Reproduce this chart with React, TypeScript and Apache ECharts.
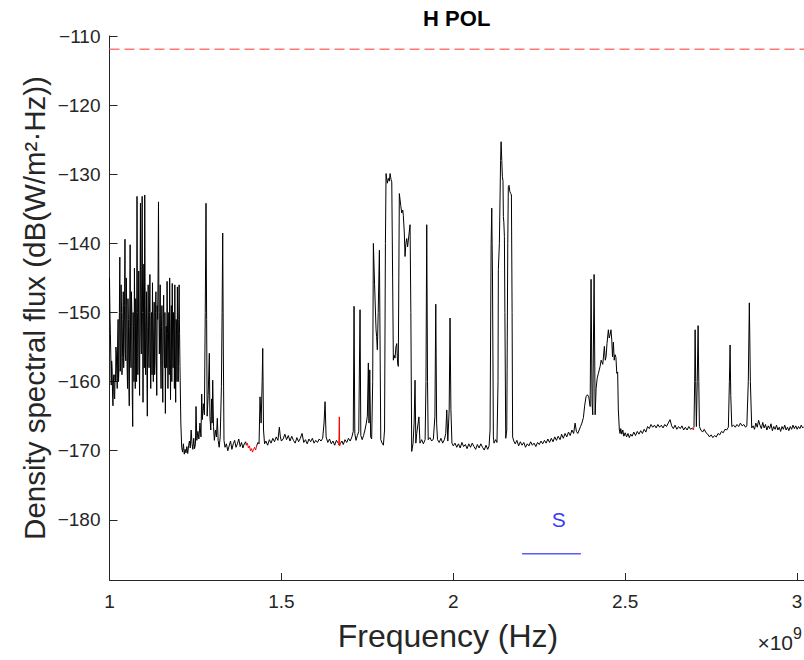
import React, { useEffect, useRef } from "react";
import * as echarts from "echarts";

const TITLE = "H POL";
const X_NAME = "Frequency (Hz)";
const Y_NAME = "Density spectral flux (dB(W/m²·Hz))";
const X_TICKS = [1, 1.5, 2, 2.5, 3];
const Y_TICKS = [-180, -170, -160, -150, -140, -130, -120, -110];
const X_RANGE = [1, 3.02];
const Y_RANGE = [-188.7, -110];
const THRESHOLD_DB = -111.9;
const S_BAND = [[2.2, -184.9], [2.371, -184.9]];
const S_LABEL_POS = [2.307, -180];

// frequency (GHz, axis shows x10^9) , flux density (dB)
const spectrum = [
  [1.0, -145.0], [1.00125, -150.0], [1.0025, -153.0], [1.00375, -156.0], [1.005, -160.5], [1.00625, -157.0],
  [1.0075, -158.0], [1.00875, -161.5], [1.01, -163.5], [1.01125, -160.0], [1.0125, -159.0], [1.01375, -162.0],
  [1.015, -162.5], [1.01625, -159.0], [1.0175, -160.0], [1.01875, -155.0], [1.02, -156.0], [1.02125, -159.0],
  [1.0225, -161.0], [1.02375, -154.0], [1.025, -151.0], [1.02625, -160.0], [1.0275, -158.0], [1.02875, -150.0],
  [1.03, -142.0], [1.03125, -158.5], [1.0325, -157.0], [1.03375, -146.0], [1.035, -150.0], [1.03625, -159.0],
  [1.0375, -156.5], [1.03875, -151.0], [1.04, -147.0], [1.04125, -158.0], [1.0425, -155.0], [1.04375, -149.0],
  [1.045, -139.4], [1.04625, -156.0], [1.0475, -157.0], [1.04875, -145.0], [1.05, -149.0], [1.05125, -158.0],
  [1.0525, -161.0], [1.05375, -148.0], [1.055, -151.0], [1.05625, -160.0], [1.0575, -163.5], [1.05875, -152.0],
  [1.06, -140.2], [1.06125, -155.0], [1.0625, -158.0], [1.06375, -147.0], [1.065, -150.0], [1.06625, -162.0],
  [1.0675, -166.5], [1.06875, -150.0], [1.07, -154.0], [1.07125, -160.0], [1.0725, -143.6], [1.07375, -152.0],
  [1.075, -161.0], [1.07625, -148.0], [1.0775, -151.0], [1.07875, -160.0], [1.08, -133.2], [1.08125, -150.0],
  [1.0825, -159.0], [1.08375, -152.0], [1.085, -144.0], [1.08625, -156.0], [1.0875, -162.0], [1.08875, -148.0],
  [1.09, -134.2], [1.09125, -153.0], [1.0925, -156.0], [1.09375, -145.0], [1.095, -133.2], [1.09625, -150.0],
  [1.0975, -163.0], [1.09875, -150.0], [1.1, -143.0], [1.10125, -158.0], [1.1025, -133.0], [1.10375, -149.0],
  [1.105, -159.0], [1.10625, -153.0], [1.1075, -147.0], [1.10875, -158.0], [1.11, -165.0], [1.11125, -152.0],
  [1.1125, -146.0], [1.11375, -155.0], [1.115, -158.0], [1.11625, -150.0], [1.1175, -144.5], [1.11875, -156.0],
  [1.12, -161.0], [1.12125, -151.0], [1.1225, -150.0], [1.12375, -159.0], [1.125, -145.7], [1.12625, -154.0],
  [1.1275, -160.0], [1.12875, -152.0], [1.13, -148.5], [1.13125, -159.0], [1.1325, -157.0], [1.13375, -150.0],
  [1.135, -147.0], [1.13625, -157.0], [1.1375, -162.0], [1.13875, -149.0], [1.14, -151.0], [1.14125, -145.0],
  [1.1425, -134.0], [1.14375, -150.0], [1.145, -156.0], [1.14625, -151.0], [1.1475, -146.0], [1.14875, -157.0],
  [1.15, -161.0], [1.15125, -152.0], [1.1525, -149.0], [1.15375, -158.0], [1.155, -163.0], [1.15625, -151.0],
  [1.1575, -147.5], [1.15875, -155.0], [1.16, -158.0], [1.16125, -150.0], [1.1625, -164.6], [1.16375, -155.0],
  [1.165, -152.0], [1.16625, -158.0], [1.1675, -145.5], [1.16875, -153.0], [1.17, -161.0], [1.17125, -155.0],
  [1.1725, -150.0], [1.17375, -159.0], [1.175, -145.0], [1.17625, -154.0], [1.1775, -162.6], [1.17875, -152.0],
  [1.18, -149.0], [1.18125, -160.0], [1.1825, -145.8], [1.18375, -155.0], [1.185, -158.0], [1.18625, -150.0],
  [1.1875, -151.0], [1.18875, -161.0], [1.19, -146.0], [1.19125, -156.0], [1.1925, -163.0], [1.19375, -151.0],
  [1.195, -152.0], [1.19625, -160.0], [1.1975, -146.3], [1.19875, -155.0], [1.2, -160.0], [1.20125, -151.0],
  [1.2025, -146.0], [1.20375, -153.0], [1.205, -157.8], [1.2075, -166.0],
  [1.21, -169.5], [1.2125, -170.2], [1.215, -169.0], [1.2175, -170.5], [1.22, -169.8], [1.2225, -170.3],
  [1.225, -169.4], [1.2275, -170.4], [1.23, -169.3], [1.2325, -168.6], [1.235, -169.6], [1.2375, -167.0],
  [1.24, -169.0], [1.2425, -169.8], [1.245, -168.2], [1.2475, -169.7], [1.25, -169.0], [1.2516, -163.6],
  [1.254, -168.5], [1.257, -167.2], [1.26, -168.3], [1.263, -166.0], [1.266, -168.0], [1.2682, -161.8],
  [1.27, -165.5], [1.273, -163.2], [1.276, -164.8], [1.2785, -150.0], [1.2807, -134.2], [1.2825, -151.0],
  [1.284, -165.0], [1.287, -162.0], [1.2904, -155.9], [1.292, -165.0], [1.2945, -167.0], [1.297, -162.5],
  [1.2985, -166.0], [1.3002, -159.8], [1.3025, -166.5], [1.305, -168.5], [1.308, -167.0], [1.311, -168.0],
  [1.3136, -165.3], [1.316, -168.5], [1.319, -169.5], [1.322, -168.0], [1.3255, -160.7], [1.3275, -150.0],
  [1.3293, -138.5], [1.331, -155.0], [1.333, -168.5], [1.336, -169.5], [1.34, -169.0], [1.344, -170.0],
  [1.348, -169.3], [1.352, -168.6], [1.356, -169.8], [1.36, -169.0], [1.364, -168.5], [1.368, -169.5],
  [1.372, -169.0], [1.376, -168.3], [1.38, -169.4], [1.384, -168.8], [1.388, -169.6], [1.392, -169.0],
  [1.396, -168.7], [1.398, -169.2], [1.413, null], [1.428, -169.3], [1.432, -168.8], [1.435, -169.0],
  [1.4378, -162.2], [1.441, -166.0], [1.444, -160.0], [1.4457, -155.2], [1.448, -167.0], [1.451, -169.0],
  [1.455, -168.6], [1.46, -169.2], [1.465, -168.4], [1.47, -168.9], [1.475, -168.2], [1.48, -168.7],
  [1.485, -168.0], [1.49, -168.5], [1.494, -166.6], [1.497, -168.0], [1.5, -168.6], [1.505, -168.3],
  [1.51, -167.6], [1.515, -168.4], [1.52, -167.8], [1.525, -168.6], [1.53, -167.9], [1.535, -168.5],
  [1.54, -168.9], [1.545, -168.1], [1.55, -168.7], [1.555, -168.2], [1.56, -167.5], [1.565, -168.8],
  [1.57, -168.4], [1.575, -169.0], [1.58, -168.3], [1.585, -168.7], [1.59, -168.2], [1.595, -168.9],
  [1.6, -168.5], [1.605, -168.8], [1.61, -168.3], [1.615, -168.6], [1.62, -168.2], [1.624, -166.0],
  [1.627, -162.9], [1.63, -168.0], [1.635, -168.8], [1.64, -168.3], [1.645, -169.0], [1.65, -168.6],
  [1.655, -169.2], [1.66, -168.5], [1.6655, -168.9], [1.668, null], [1.671, -169.0], [1.676, -168.6],
  [1.68, -169.1], [1.685, -168.4], [1.69, -168.8], [1.695, -168.2], [1.7, -168.6], [1.705, -168.0],
  [1.709, -167.2], [1.7113, -149.1], [1.7135, -167.5], [1.717, -168.5], [1.721, -167.8], [1.725, -167.2],
  [1.7287, -149.6], [1.731, -167.8], [1.735, -168.4], [1.739, -167.8], [1.743, -167.0], [1.747, -166.0],
  [1.75, -165.0], [1.7529, -157.3], [1.7548, -166.0], [1.757, -158.3], [1.7595, -168.0], [1.7625, -168.3],
  [1.7655, -160.0], [1.7675, -140.0], [1.771, -146.0], [1.7753, -152.5], [1.777, -153.5], [1.779, -155.4],
  [1.7815, -150.0], [1.785, -141.0], [1.787, -155.0], [1.789, -168.4], [1.793, -168.9], [1.7966, -169.2],
  [1.8, -167.0], [1.8025, -140.0], [1.8044, -129.9], [1.808, -131.3], [1.811, -130.6], [1.814, -131.0],
  [1.816, -129.9], [1.819, -130.8], [1.821, -131.1], [1.8235, -145.0], [1.8256, -156.9], [1.828, -156.2],
  [1.8305, -156.6], [1.833, -155.0], [1.8355, -154.5], [1.838, -157.3], [1.84, -157.8], [1.8415, -145.0],
  [1.843, -132.8], [1.847, -134.5], [1.85, -135.6], [1.853, -135.2], [1.8547, -136.0], [1.8575, -138.5],
  [1.8596, -141.9], [1.862, -140.0], [1.8645, -139.3], [1.867, -140.5], [1.869, -140.5], [1.8715, -138.5],
  [1.8742, -137.3], [1.8765, -150.0], [1.879, -170.1], [1.883, -168.9], [1.886, -166.0], [1.8887, -159.8],
  [1.891, -168.9], [1.8936, -167.5], [1.9, -165.1], [1.903, -168.9], [1.908, -168.4], [1.913, -169.0],
  [1.918, -168.4], [1.9205, -160.0], [1.9227, -137.3], [1.925, -160.0], [1.927, -168.4], [1.932, -168.1],
  [1.937, -168.6], [1.942, -168.3], [1.9465, -165.0], [1.949, -148.8], [1.9515, -166.0], [1.954, -168.4],
  [1.959, -168.8], [1.964, -168.2], [1.969, -168.9], [1.974, -168.4], [1.978, -167.5], [1.981, -164.1],
  [1.984, -168.6], [1.988, -164.1], [1.9905, -150.8], [1.993, -164.0], [1.996, -168.9], [2.0, -169.3],
  [2.005, -168.9], [2.01, -169.5], [2.015, -169.0], [2.02, -169.6], [2.025, -168.8], [2.03, -169.4],
  [2.035, -169.1], [2.04, -169.7], [2.045, -169.0], [2.05, -169.5], [2.055, -168.9], [2.06, -169.4],
  [2.065, -169.8], [2.07, -169.1], [2.075, -169.6], [2.08, -169.0], [2.085, -169.5], [2.09, -169.9],
  [2.095, -169.2], [2.1, -169.8], [2.104, -169.3], [2.1069, -167.0], [2.11, -140.0], [2.1118, -134.9],
  [2.114, -145.0], [2.1165, -168.0], [2.1185, -168.9], [2.123, -168.4], [2.127, -168.8], [2.13, -160.0],
  [2.131, -143.8], [2.134, -140.0], [2.1375, -128.0], [2.139, -125.3], [2.141, -128.0], [2.1427, -130.3],
  [2.1445, -131.0], [2.1456, -136.1], [2.147, -137.0], [2.1486, -139.0], [2.15, -150.0], [2.1525, -168.2],
  [2.1555, -167.0], [2.1584, -140.0], [2.16, -131.8], [2.162, -131.6], [2.1645, -132.5], [2.1671, -132.8],
  [2.169, -133.0], [2.171, -150.0], [2.1725, -168.0], [2.176, -168.6], [2.18, -169.0], [2.185, -168.5],
  [2.19, -169.3], [2.195, -168.7], [2.2, -169.2], [2.205, -168.8], [2.21, -169.5], [2.215, -169.0],
  [2.22, -169.3], [2.225, -168.7], [2.23, -169.2], [2.235, -168.9], [2.24, -169.4], [2.245, -168.8],
  [2.25, -169.1], [2.255, -168.6], [2.26, -169.0], [2.265, -168.5], [2.27, -168.9], [2.275, -168.3],
  [2.28, -168.8], [2.285, -168.2], [2.29, -168.7], [2.295, -168.0], [2.3, -168.5], [2.305, -167.9],
  [2.3105, -168.4], [2.315, -167.6], [2.32, -168.2], [2.325, -167.5], [2.33, -168.0], [2.335, -167.3],
  [2.34, -167.8], [2.345, -167.0], [2.35, -167.5], [2.3542, -166.0], [2.358, -167.2], [2.362, -167.5],
  [2.366, -167.0], [2.37, -166.5], [2.374, -166.0], [2.3784, -165.2], [2.382, -163.5], [2.386, -162.2],
  [2.39, -161.9], [2.394, -162.2], [2.398, -163.6], [2.4007, -145.2], [2.4035, -163.0], [2.4056, -164.8],
  [2.4095, -144.5], [2.4125, -164.8], [2.4153, -161.0], [2.4185, -159.5], [2.422, -158.8], [2.425, -158.2],
  [2.427, -157.8], [2.43, -156.9], [2.4347, -157.5], [2.4394, -154.9], [2.442, -156.9], [2.4444, -156.4],
  [2.447, -154.5], [2.451, -152.5], [2.4535, -153.7], [2.456, -153.2], [2.4585, -152.5], [2.461, -154.0],
  [2.463, -156.4], [2.4656, -154.3], [2.468, -156.9], [2.4705, -156.1], [2.473, -156.5], [2.4755, -158.8],
  [2.478, -158.6], [2.48, -164.1], [2.483, -167.0], [2.485, -167.5], [2.487, -166.8], [2.49, -167.6],
  [2.493, -167.0], [2.496, -167.9], [2.5, -167.4], [2.504, -168.0], [2.508, -167.5], [2.512, -168.1],
  [2.516, -167.6], [2.52, -167.9], [2.525, -167.3], [2.53, -167.8], [2.535, -167.2], [2.54, -167.6],
  [2.545, -167.1], [2.55, -167.5], [2.555, -166.9], [2.56, -167.3], [2.565, -166.5], [2.57, -166.8],
  [2.575, -166.2], [2.58, -166.6], [2.585, -166.3], [2.59, -166.7], [2.595, -166.2], [2.6, -166.6],
  [2.605, -166.3], [2.61, -166.7], [2.615, -166.2], [2.62, -166.5], [2.625, -166.0], [2.6305, -165.5],
  [2.635, -166.4], [2.64, -166.8], [2.645, -166.3], [2.65, -166.9], [2.655, -166.5], [2.66, -166.8],
  [2.665, -166.4], [2.67, -167.0], [2.675, -166.6], [2.68, -167.0], [2.685, -166.5], [2.69, -166.9],
  [2.696, -166.7], [2.698, null], [2.7, -166.6], [2.702, -160.0], [2.7033, -152.5], [2.705, -160.0],
  [2.707, -166.5], [2.7095, -160.0], [2.712, -151.9], [2.714, -160.0], [2.7158, -166.5], [2.72, -167.0],
  [2.725, -167.3], [2.73, -166.9], [2.735, -167.4], [2.74, -167.6], [2.745, -168.0], [2.75, -167.7],
  [2.755, -168.1], [2.76, -167.8], [2.765, -168.0], [2.77, -167.5], [2.775, -167.7], [2.78, -167.2],
  [2.785, -167.4], [2.79, -166.9], [2.795, -167.0], [2.8, -166.6], [2.803, -160.0], [2.805, -154.7],
  [2.807, -162.0], [2.81, -166.5], [2.815, -166.3], [2.82, -166.6], [2.825, -166.2], [2.83, -166.5],
  [2.835, -166.0], [2.84, -166.4], [2.845, -166.2], [2.85, -166.6], [2.8537, -166.4], [2.858, -160.0],
  [2.861, -148.6], [2.864, -160.0], [2.868, -166.7], [2.872, -166.4], [2.876, -166.9], [2.88, -166.0],
  [2.884, -166.6], [2.888, -165.6], [2.892, -166.3], [2.896, -166.8], [2.9, -165.9], [2.904, -166.7],
  [2.908, -166.2], [2.912, -167.0], [2.916, -166.4], [2.92, -166.8], [2.924, -166.1], [2.928, -167.1],
  [2.932, -166.5], [2.936, -166.9], [2.94, -166.3], [2.944, -167.0], [2.948, -166.6], [2.952, -167.2],
  [2.956, -166.5], [2.96, -166.9], [2.964, -166.3], [2.968, -167.0], [2.972, -166.6], [2.976, -167.1],
  [2.98, -166.5], [2.984, -166.9], [2.988, -166.3], [2.992, -166.8], [2.996, -166.4], [3.0, -166.9],
  [3.004, -166.5], [3.008, -166.8], [3.012, -166.3], [3.016, -166.7], [3.02, -166.5],
];

const redSegmentA = [
  [1.398, -169.2], [1.401, -168.9], [1.404, -169.6], [1.407, -169.3], [1.41, -170.0], [1.413, -169.7],
  [1.416, -170.2], [1.419, -169.8], [1.422, -169.5], [1.425, -169.9], [1.428, -169.3],
];
const redSegmentB = [[1.6655, -168.9], [1.667, -169.2], [1.6685, -165.1], [1.6695, -169.3], [1.671, -169.0]];
const redSegmentC = [[2.696, -166.7], [2.698, -167.0], [2.7, -166.6]];

const FONT = '"Liberation Sans", Arial, Helvetica, sans-serif';
const AXIS_COLOR = "#262626";

export default function App() {
  const ref = useRef<HTMLDivElement>(null);
  useEffect(() => {
    if (!ref.current) return;
    const chart = echarts.init(ref.current, undefined, { renderer: "svg" });
    const gridLeft = 109.5;
    const gridTop = 36;
    const gridW = 804 - gridLeft;
    const gridH = 580 - gridTop;
    const redLine = (data: number[][]) => ({
      type: "line",
      data,
      symbol: "none",
      silent: true,
      lineStyle: { color: "#ff0000", width: 1 },
      z: 4,
    });
    chart.setOption({
      animation: false,
      backgroundColor: "#ffffff",
      grid: {
        left: gridLeft,
        top: gridTop,
        width: gridW,
        height: gridH,
        containLabel: false,
        outerBoundsMode: "none",
      },
      xAxis: {
        type: "value",
        min: X_RANGE[0],
        max: X_RANGE[1],
        axisLine: { show: true, onZero: false, lineStyle: { color: AXIS_COLOR, width: 1 } },
        axisTick: { show: true, inside: true, length: 7, customValues: X_TICKS, lineStyle: { color: AXIS_COLOR } },
        axisLabel: {
          customValues: X_TICKS,
          formatter: (v: number) => String(v),
          color: AXIS_COLOR,
          fontSize: 19,
          fontFamily: FONT,
          margin: 12,
        },
        splitLine: { show: false },
      },
      yAxis: {
        type: "value",
        min: Y_RANGE[0],
        max: Y_RANGE[1],
        axisLine: { show: true, onZero: false, lineStyle: { color: AXIS_COLOR, width: 1 } },
        axisTick: { show: true, inside: true, length: 8, customValues: Y_TICKS, lineStyle: { color: AXIS_COLOR } },
        axisLabel: {
          customValues: Y_TICKS,
          formatter: (v: number) => (v < 0 ? "\u2212" + Math.abs(v) : String(v)),
          color: AXIS_COLOR,
          fontSize: 19,
          fontFamily: FONT,
          margin: 9,
        },
        splitLine: { show: false },
      },
      series: [
        {
          type: "line",
          data: spectrum,
          symbol: "none",
          silent: true,
          connectNulls: false,
          lineStyle: { color: "#000000", width: 1 },
          z: 3,
        },
        redLine(redSegmentA),
        redLine(redSegmentB),
        redLine(redSegmentC),
        {
          type: "line",
          data: [[X_RANGE[0], THRESHOLD_DB], [X_RANGE[1], THRESHOLD_DB]],
          symbol: "none",
          silent: true,
          lineStyle: { color: "#ff7878", width: 1.5, type: [10, 5] },
          z: 2,
        },
        {
          type: "line",
          data: S_BAND,
          symbol: "none",
          silent: true,
          lineStyle: { color: "#5a5aff", width: 1.5 },
          z: 2,
        },
        {
          type: "scatter",
          data: [S_LABEL_POS],
          symbolSize: 1,
          silent: true,
          itemStyle: { color: "rgba(0,0,0,0)" },
          label: {
            show: true,
            position: "inside",
            formatter: "S",
            color: "#0000ff",
            fontSize: 21,
            fontFamily: FONT,
          },
          z: 5,
        },
      ],
      graphic: [
        {
          type: "text",
          x: 456.7,
          y: 18,
          style: {
            text: TITLE,
            fontSize: 22,
            fontWeight: "bold",
            fontFamily: FONT,
            fill: "#000000",
            align: "center",
            verticalAlign: "middle",
          },
        },
        {
          type: "text",
          x: 448,
          y: 636,
          style: {
            text: X_NAME,
            fontSize: 32,
            fontFamily: FONT,
            fill: AXIS_COLOR,
            align: "center",
            verticalAlign: "middle",
          },
        },
        {
          type: "text",
          x: 34,
          y: 308,
          rotation: Math.PI / 2,
          style: {
            text: Y_NAME,
            fontSize: 29.5,
            fontFamily: FONT,
            fill: AXIS_COLOR,
            align: "center",
            verticalAlign: "middle",
          },
        },
        {
          type: "text",
          x: 793,
          y: 642,
          style: {
            text: "\u00d710",
            fontSize: 21,
            fontFamily: FONT,
            fill: AXIS_COLOR,
            align: "right",
            verticalAlign: "middle",
          },
        },
        {
          type: "text",
          x: 793,
          y: 633,
          style: {
            text: "9",
            fontSize: 16,
            fontFamily: FONT,
            fill: AXIS_COLOR,
            align: "left",
            verticalAlign: "middle",
          },
        },
      ],
    });
    return () => chart.dispose();
  }, []);
  return (
    <div
      ref={ref}
      style={{ position: "fixed", left: 0, top: 0, width: 804, height: 660, background: "#fff" }}
    />
  );
}
